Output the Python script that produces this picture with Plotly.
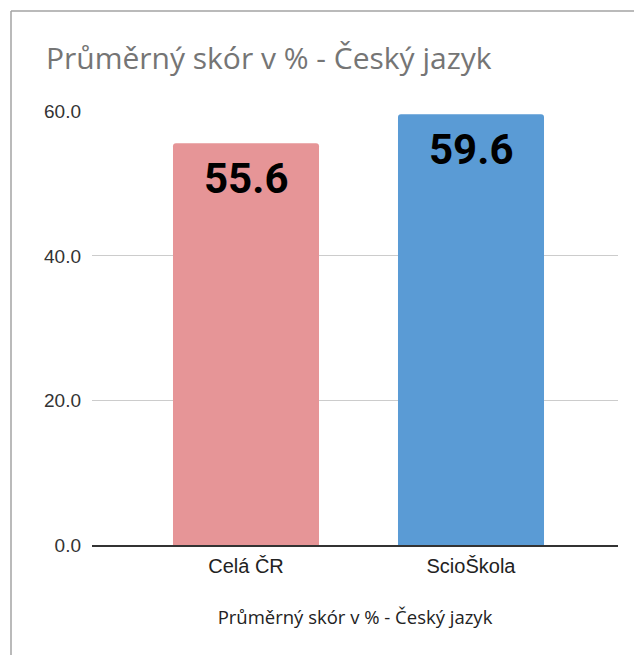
import plotly.graph_objects as go

categories = ["Celá ČR", "ScioŠkola"]
values = [55.6, 59.6]
bar_colors = ["#e69597", "#5a9bd5"]
y_ticks = [0, 20, 40, 60]
title_text = "Průměrný skór v % - Český jazyk"

# page body has an 8px default margin, so the figure is sized/offset to compensate
W, H = 634, 647
L, R, T, B = 84, 24, 103, 110
pw, ph = W - L - R, H - T - B

fig = go.Figure()
fig.add_trace(go.Bar(
    x=[0, 1], y=values, marker=dict(color=bar_colors, line=dict(width=0)),
    width=0.649, hoverinfo="skip",
))

for i, v in enumerate(values):
    fig.add_annotation(x=i, y=v, xref="x", yref="y", text=f"{v:.1f}",
                       showarrow=False, yanchor="middle", yshift=-35,
                       font=dict(family="Roboto, Arial", size=42, color="#000000", weight="bold"))

# outer border (top and left, as in reference)
bx0 = (3 - L) / pw
bx1 = (W + 5 - L) / pw
by0 = (T + ph - (H + 5)) / ph
by1 = (T + ph - 3) / ph
fig.add_shape(type="line", xref="paper", yref="paper", x0=bx0, x1=bx1, y0=by1, y1=by1,
              line=dict(color="#a3a3a3", width=1.5))
fig.add_shape(type="line", xref="paper", yref="paper", x0=bx0, x1=bx0, y0=by0, y1=by1,
              line=dict(color="#a3a3a3", width=1.5))

fig.update_layout(
    width=W, height=H,
    margin=dict(l=L, r=R, t=T, b=B),
    paper_bgcolor="white", plot_bgcolor="white",
    showlegend=False,
    barcornerradius=3,
    title=dict(text=title_text, x=38 / W, xanchor="left", xref="container",
               y=1 - 50 / H, yanchor="middle", yref="container",
               font=dict(family="Open Sans", size=30, color="#757575")),
    xaxis=dict(
        range=[(L + 8 - 246) / 225, (L + 8 + pw - 246) / 225],
        tickmode="array", tickvals=[0, 1], ticktext=categories,
        tickfont=dict(family="Liberation Sans, Arial", size=20, color="#222222"),
        showline=True, linecolor="#333333", linewidth=1.6,
        showgrid=False, zeroline=False, ticks="", ticklabelstandoff=2,
        title=dict(text=title_text, standoff=35,
                   font=dict(family="Open Sans", size=18.5, color="#222222")),
    ),
    yaxis=dict(
        range=[0, 60.05],
        tickmode="array", tickvals=y_ticks, ticktext=[f"{t:.1f}" for t in y_ticks],
        tickfont=dict(family="Liberation Sans, Arial", size=19, color="#333333"),
        showgrid=True, gridcolor="#cccccc", gridwidth=1,
        zeroline=False, showline=False, ticks="", ticklabelstandoff=10,
    ),
)

fig.write_html("out.html")
